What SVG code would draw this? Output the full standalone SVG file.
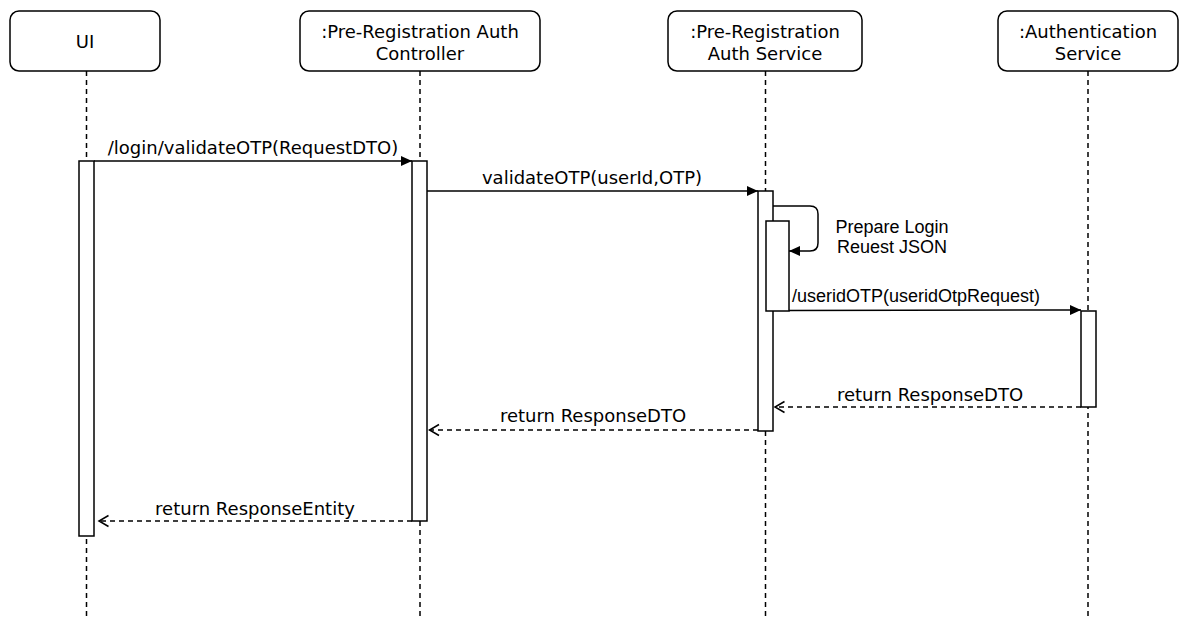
<svg xmlns="http://www.w3.org/2000/svg" width="1190" height="617" viewBox="0 0 1190 617">
<style>
.box{fill:#fff;stroke:#000;stroke-width:1.5}
.life{stroke:#000;stroke-width:1.5;stroke-dasharray:5 4;fill:none}
.act{fill:#fff;stroke:#000;stroke-width:1.5}
.msg{stroke:#000;stroke-width:1.5;fill:none}
.ret{stroke:#000;stroke-width:1.5;fill:none;stroke-dasharray:5 4}
.t{font-family:"DejaVu Sans",Verdana,sans-serif;font-size:18px;fill:#000;text-anchor:middle}
.a{font-family:"Liberation Sans",Arial,sans-serif;font-size:18px;fill:#000;text-anchor:middle}
</style>
<defs>
<marker id="block" markerUnits="userSpaceOnUse" markerWidth="12" markerHeight="10" refX="11" refY="5" orient="auto">
<path d="M0,0 L11,5 L0,10 z" fill="#000"/>
</marker>
<marker id="open" markerUnits="userSpaceOnUse" markerWidth="13" markerHeight="14" refX="11" refY="7" orient="auto">
<path d="M1.5,1.5 L11,7 L1.5,12.5" fill="none" stroke="#000" stroke-width="1.5"/>
</marker>
</defs>
<rect width="1190" height="617" fill="#fff"/>
<g id="ui">
<line class="life" x1="86.5" y1="71" x2="86.5" y2="617"/>
<rect class="box" x="10" y="11" width="150" height="60" rx="9"/>
<text class="t" x="85" y="48">UI</text>
<rect class="act" x="79" y="161" width="15" height="375"/>
</g>
<g id="controller">
<line class="life" x1="420" y1="71" x2="420" y2="617"/>
<rect class="box" x="300" y="11" width="240" height="60" rx="9"/>
<text class="t" x="420" y="38">:Pre-Registration Auth</text>
<text class="t" x="420" y="60">Controller</text>
<rect class="act" x="412" y="161" width="15" height="360"/>
</g>
<g id="service">
<line class="life" x1="765.5" y1="71" x2="765.5" y2="617"/>
<rect class="box" x="668" y="11" width="194" height="60" rx="9"/>
<text class="t" x="765" y="38">:Pre-Registration</text>
<text class="t" x="765" y="60">Auth Service</text>
<rect class="act" x="758" y="191" width="15" height="240"/>
<rect class="act" x="766" y="221" width="23" height="90"/>
</g>
<g id="authservice">
<line class="life" x1="1088" y1="71" x2="1088" y2="617"/>
<rect class="box" x="998" y="11" width="180" height="60" rx="9"/>
<text class="t" x="1088" y="38">:Authentication</text>
<text class="t" x="1088" y="60">Service</text>
<rect class="act" x="1081" y="311" width="15" height="96"/>
</g>
<g id="connectors">
<line class="msg" x1="94" y1="161" x2="412" y2="161" marker-end="url(#block)"/>
<text class="t" x="253" y="154">/login/validateOTP(RequestDTO)</text>
<line class="msg" x1="427" y1="191" x2="758" y2="191" marker-end="url(#block)"/>
<text class="t" x="592" y="184">validateOTP(userId,OTP)</text>
<path class="msg" d="M773,206 H810 Q818,206 818,214 V243 Q818,251 810,251 H789" marker-end="url(#block)"/>
<text class="a" x="892" y="233">Prepare Login</text>
<text class="a" x="892" y="253">Reuest JSON</text>
<line class="msg" x1="789" y1="310.5" x2="1081" y2="310" marker-end="url(#block)"/>
<text class="a" x="916" y="302">/useridOTP(useridOtpRequest)</text>
<line class="ret" x1="1081" y1="407" x2="775" y2="407" marker-end="url(#open)"/>
<text class="t" x="930" y="401">return ResponseDTO</text>
<line class="ret" x1="758" y1="430" x2="429.5" y2="430" marker-end="url(#open)"/>
<text class="t" x="593" y="422">return ResponseDTO</text>
<line class="ret" x1="412" y1="521" x2="99" y2="521" marker-end="url(#open)"/>
<text class="t" x="255" y="515">return ResponseEntity</text>
</g>
</svg>
